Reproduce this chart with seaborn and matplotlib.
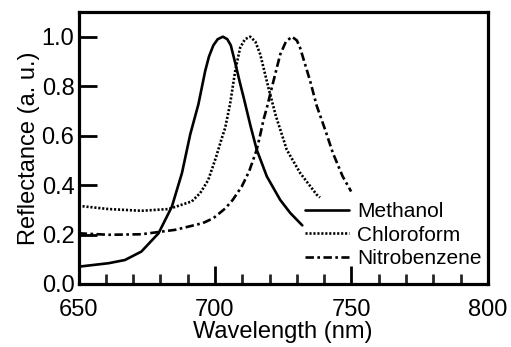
import numpy as np
import pandas as pd
import matplotlib
matplotlib.use("Agg")
import matplotlib.pyplot as plt
import seaborn as sns
from matplotlib.ticker import MultipleLocator, FormatStrFormatter

# Data
methanol_x = [650, 661, 667, 673, 679.3, 684.2, 687.9, 690.9, 693.9, 696.4, 697.8, 699.4,
              701.0, 702.9, 704.5, 705.8, 707.5, 709.0, 710.6, 713.0, 715.3, 719.0, 723.9, 727.6, 732.0]
methanol_y = [0.07, 0.084, 0.097, 0.131, 0.205, 0.313, 0.449, 0.604, 0.726, 0.861, 0.92, 0.965,
              0.99, 1.0, 0.99, 0.965, 0.89, 0.82, 0.75, 0.64, 0.543, 0.435, 0.34, 0.287, 0.237]

chloro_x = [650, 661, 673, 683, 691.5, 694.6, 697.5, 700.3, 702.5, 703.7, 705.5, 707.4,
            709.2, 711.0, 712.9, 714.8, 716.6, 719.6, 722.3, 726.3, 731.2, 737.3, 738.5]
chloro_y = [0.316, 0.303, 0.296, 0.303, 0.334, 0.368, 0.42, 0.51, 0.59, 0.63, 0.726, 0.861,
            0.955, 0.99, 1.0, 0.98, 0.928, 0.793, 0.68, 0.543, 0.449, 0.361, 0.35]

nitro_x = [650, 661, 673, 685.4, 695.5, 699.4, 703.7, 706.5, 709.8, 712.5, 715.3,
           716.6, 717.8, 719.0, 720.8, 723.9, 726.0, 728.2, 730.0, 731.2, 734.9, 737.3,
           740.5, 743.2, 746.8, 749.9]
nitro_y = [0.205, 0.199, 0.201, 0.219, 0.246, 0.266, 0.305, 0.34, 0.394, 0.455, 0.543,
           0.604, 0.665, 0.712, 0.793, 0.928, 0.98, 1.0, 0.985, 0.955, 0.82, 0.72,
           0.62, 0.53, 0.435, 0.374]

series_names = ["Methanol", "Chloroform", "Nitrobenzene"]

df = pd.concat([
    pd.DataFrame({"x": methanol_x, "y": methanol_y, "solvent": series_names[0]}),
    pd.DataFrame({"x": chloro_x, "y": chloro_y, "solvent": series_names[1]}),
    pd.DataFrame({"x": nitro_x, "y": nitro_y, "solvent": series_names[2]}),
])

sns.set_style("ticks")
plt.rcParams['font.family'] = ['Liberation Sans', 'DejaVu Sans']

fig = plt.figure(figsize=(5.11, 3.47), dpi=100)
ax = fig.add_axes([0.1538, 0.1816, 0.8008, 0.7839])

dashes = {"Methanol": "", "Chloroform": (0.8, 0.7), "Nitrobenzene": (3.2, 1.3, 1.0, 1.3)}
sns.lineplot(data=df, x="x", y="y", style="solvent", style_order=series_names,
             dashes=dashes, color="black", linewidth=1.9, sort=False,
             estimator=None, ax=ax)
for ln in ax.get_lines():
    ln.set_solid_joinstyle("round")
    ln.set_dash_capstyle("butt")

ax.set_xlim(650, 800)
ax.set_ylim(0, 1.1)
ax.xaxis.set_major_locator(MultipleLocator(50))
ax.xaxis.set_minor_locator(MultipleLocator(10))
ax.yaxis.set_major_locator(MultipleLocator(0.2))
ax.yaxis.set_major_formatter(FormatStrFormatter("%.1f"))
ax.tick_params(axis="both", which="major", direction="in", length=13, width=2,
               labelsize=17, top=False, right=False, color="black", labelcolor="black")
ax.tick_params(axis="x", which="major", pad=11)
ax.tick_params(axis="y", which="major", pad=3)
ax.tick_params(axis="x", which="minor", direction="in", length=7, width=2, top=False)
for s in ax.spines.values():
    s.set_linewidth(2.3)
    s.set_color("black")
    s.set_visible(True)

ax.set_xlabel("Wavelength (nm)", fontsize=17, labelpad=0, color="black")
ax.set_ylabel("Reflectance (a. u.)", fontsize=17, labelpad=1, color="black")

leg = ax.legend(loc="lower right", frameon=False, fontsize=15, handlelength=2.1,
                handletextpad=0.4, labelspacing=0.22, bbox_to_anchor=(1.0, 0.035),
                borderaxespad=0.1, borderpad=0.2)
for line in leg.get_lines():
    line.set_linewidth(1.9)
for t in leg.get_texts():
    t.set_color("black")

fig.savefig("out.png", dpi=100)
